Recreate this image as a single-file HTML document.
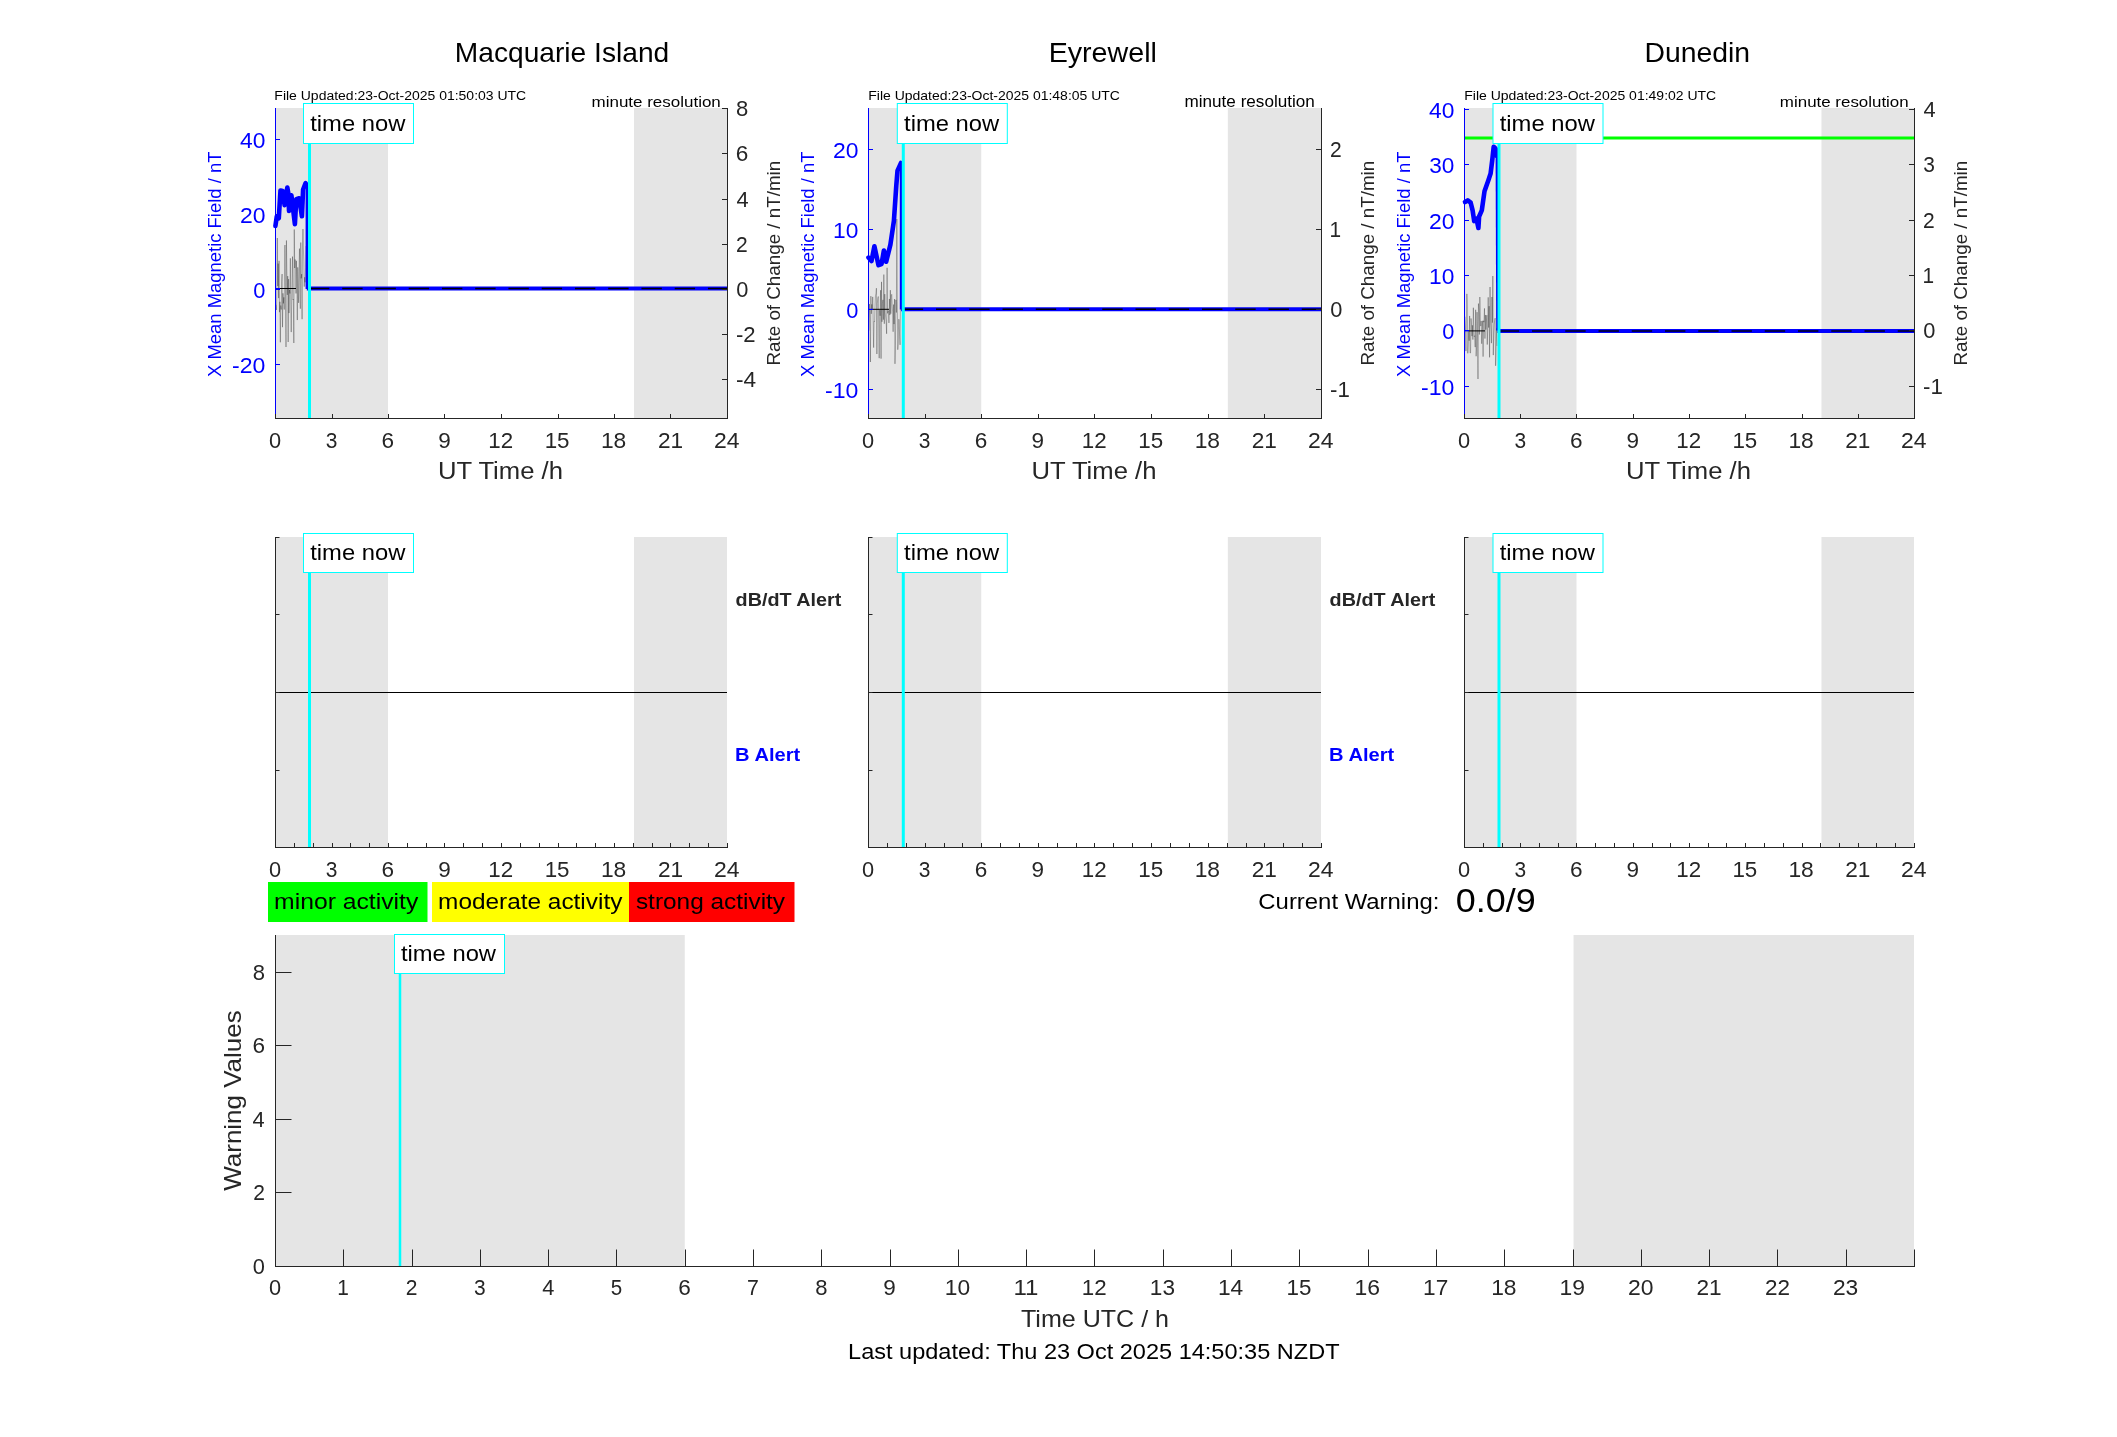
<!DOCTYPE html><html><head><meta charset="utf-8"><style>html,body{margin:0;padding:0;background:#fff;overflow:hidden}svg{display:block;will-change:transform}text{font-family:"Liberation Sans",sans-serif}</style></head><body>
<svg width="2117" height="1437" viewBox="0 0 2117 1437">
<rect x="0" y="0" width="2117" height="1437" fill="#ffffff"/>
<rect x="275" y="108" width="113.0" height="310" fill="#e5e5e5"/>
<rect x="634.0333333333333" y="108" width="92.96666666666674" height="310" fill="#e5e5e5"/>
<polyline points="276.00,305.12 276.43,309.96 276.87,293.89 277.30,238.00 277.74,286.11 278.17,263.58 278.61,298.15 279.04,260.84 279.48,312.19 279.91,301.78 280.35,342.29 280.78,305.54 281.22,309.50 281.65,281.92 282.09,274.04 282.52,327.20 282.96,293.30 283.39,303.42 283.83,297.34 284.26,309.53 284.70,245.73 285.13,245.01 285.57,303.62 286.00,347.00 286.43,240.46 286.87,271.39 287.30,294.88 287.74,276.08 288.17,342.00 288.61,279.07 289.04,313.07 289.48,289.85 289.91,293.56 290.35,258.32 290.78,305.24 291.22,332.08 291.65,304.13 292.09,279.89 292.52,256.59 292.96,299.94 293.39,299.21 293.83,343.00 294.26,229.47 294.70,268.01 295.13,259.47 295.57,264.85 296.00,293.46 296.43,260.80 296.87,281.05 297.30,320.07 297.74,267.34 298.17,285.12 298.61,302.88 299.04,270.92 299.48,248.58 299.91,293.19 300.35,308.70 300.78,242.53 301.22,278.38 301.65,274.08 302.09,319.20 302.52,245.95 302.96,229.00 303.39,249.04 303.83,261.11 304.26,286.61 304.70,277.24 305.13,282.28 305.57,267.60 306.00,246.36" fill="none" stroke="#000000" stroke-width="0.6" stroke-linejoin="round" stroke-linecap="round" stroke-opacity="0.45"/>
<line x1="276" y1="288.5" x2="280" y2="288.5" stroke="#0000ff" stroke-width="1"/>
<line x1="280" y1="288.5" x2="296" y2="288.5" stroke="#000000" stroke-width="1"/>
<polyline points="275.40,226.00 276.80,216.30 278.80,218.20 280.50,190.50 282.70,191.00 284.60,205.10 287.30,187.50 288.50,194.40 289.00,210.90 291.40,195.30 294.90,224.10 296.30,199.20 299.20,198.30 301.90,216.30 303.10,189.50 305.60,183.20 306.80,185.60" fill="none" stroke="#0000ff" stroke-width="4.6" stroke-linejoin="round" stroke-linecap="round"/>
<line x1="306.8" y1="185.6" x2="306.8" y2="289" stroke="#0000ff" stroke-width="2.4"/>
<line x1="306.8" y1="288.5" x2="727" y2="288.5" stroke="#0000ff" stroke-width="4"/>
<line x1="308.8" y1="288.5" x2="727" y2="288.5" stroke="#000000" stroke-width="1.5" stroke-dasharray="20.4,12.85" stroke-dashoffset="33.10"/>
<line x1="309.5" y1="143" x2="309.5" y2="418" stroke="#00ffff" stroke-width="3"/>
<line x1="275.5" y1="108" x2="275.5" y2="418.5" stroke="#0000ff" stroke-width="1"/>
<line x1="727.5" y1="108" x2="727.5" y2="418.5" stroke="#262626" stroke-width="1"/>
<line x1="275" y1="418.5" x2="728" y2="418.5" stroke="#262626" stroke-width="1"/>
<line x1="275.5" y1="418" x2="275.5" y2="414" stroke="#262626" stroke-width="1"/>
<text x="268.93" y="448.00" font-size="21.93" fill="#262626" textLength="12.14" lengthAdjust="spacingAndGlyphs">0</text>
<line x1="332.5" y1="418" x2="332.5" y2="414" stroke="#262626" stroke-width="1"/>
<text x="325.73" y="448.00" font-size="21.93" fill="#262626" textLength="11.65" lengthAdjust="spacingAndGlyphs">3</text>
<line x1="388.5" y1="418" x2="388.5" y2="414" stroke="#262626" stroke-width="1"/>
<text x="381.64" y="448.00" font-size="21.93" fill="#262626" textLength="12.56" lengthAdjust="spacingAndGlyphs">6</text>
<line x1="444.5" y1="418" x2="444.5" y2="414" stroke="#262626" stroke-width="1"/>
<text x="438.24" y="448.00" font-size="21.93" fill="#262626" textLength="12.53" lengthAdjust="spacingAndGlyphs">9</text>
<line x1="501.5" y1="418" x2="501.5" y2="414" stroke="#262626" stroke-width="1"/>
<text x="488.30" y="448.00" font-size="21.93" fill="#262626" textLength="24.82" lengthAdjust="spacingAndGlyphs">12</text>
<line x1="558.5" y1="418" x2="558.5" y2="414" stroke="#262626" stroke-width="1"/>
<text x="544.67" y="448.00" font-size="21.93" fill="#262626" textLength="24.90" lengthAdjust="spacingAndGlyphs">15</text>
<line x1="614.5" y1="418" x2="614.5" y2="414" stroke="#262626" stroke-width="1"/>
<text x="600.94" y="448.00" font-size="21.93" fill="#262626" textLength="25.38" lengthAdjust="spacingAndGlyphs">18</text>
<line x1="670.5" y1="418" x2="670.5" y2="414" stroke="#262626" stroke-width="1"/>
<text x="657.91" y="448.00" font-size="21.93" fill="#262626" textLength="25.16" lengthAdjust="spacingAndGlyphs">21</text>
<line x1="727.5" y1="418" x2="727.5" y2="414" stroke="#262626" stroke-width="1"/>
<text x="714.02" y="448.00" font-size="21.93" fill="#262626" textLength="25.49" lengthAdjust="spacingAndGlyphs">24</text>
<line x1="275" y1="364.5" x2="280" y2="364.5" stroke="#0000ff" stroke-width="1"/>
<text x="232.05" y="372.80" font-size="21.93" fill="#0000ff" textLength="33.35" lengthAdjust="spacingAndGlyphs">-20</text>
<line x1="275" y1="289.5" x2="280" y2="289.5" stroke="#0000ff" stroke-width="1"/>
<text x="253.22" y="297.80" font-size="21.93" fill="#0000ff" textLength="12.14" lengthAdjust="spacingAndGlyphs">0</text>
<line x1="275" y1="214.5" x2="280" y2="214.5" stroke="#0000ff" stroke-width="1"/>
<text x="239.90" y="222.80" font-size="21.93" fill="#0000ff" textLength="25.50" lengthAdjust="spacingAndGlyphs">20</text>
<line x1="275" y1="139.5" x2="280" y2="139.5" stroke="#0000ff" stroke-width="1"/>
<text x="240.02" y="147.80" font-size="21.93" fill="#0000ff" textLength="25.37" lengthAdjust="spacingAndGlyphs">40</text>
<line x1="727" y1="379.5" x2="722" y2="379.5" stroke="#262626" stroke-width="1"/>
<text x="735.99" y="387.00" font-size="21.93" fill="#262626" textLength="20.14" lengthAdjust="spacingAndGlyphs">-4</text>
<line x1="727" y1="334.5" x2="722" y2="334.5" stroke="#262626" stroke-width="1"/>
<text x="736.02" y="342.00" font-size="21.93" fill="#262626" textLength="19.65" lengthAdjust="spacingAndGlyphs">-2</text>
<line x1="727" y1="289.5" x2="722" y2="289.5" stroke="#262626" stroke-width="1"/>
<text x="736.15" y="297.00" font-size="21.93" fill="#262626" textLength="12.14" lengthAdjust="spacingAndGlyphs">0</text>
<line x1="727" y1="244.5" x2="722" y2="244.5" stroke="#262626" stroke-width="1"/>
<text x="735.94" y="252.00" font-size="21.93" fill="#262626" textLength="11.70" lengthAdjust="spacingAndGlyphs">2</text>
<line x1="727" y1="199.5" x2="722" y2="199.5" stroke="#262626" stroke-width="1"/>
<text x="736.50" y="207.00" font-size="21.93" fill="#262626" textLength="12.14" lengthAdjust="spacingAndGlyphs">4</text>
<line x1="727" y1="153.5" x2="722" y2="153.5" stroke="#262626" stroke-width="1"/>
<text x="735.85" y="161.00" font-size="21.93" fill="#262626" textLength="12.56" lengthAdjust="spacingAndGlyphs">6</text>
<line x1="727" y1="108.5" x2="722" y2="108.5" stroke="#262626" stroke-width="1"/>
<text x="736.04" y="116.00" font-size="21.93" fill="#262626" textLength="12.27" lengthAdjust="spacingAndGlyphs">8</text>
<text x="454.89" y="62.00" font-size="26.79" fill="#000000" textLength="214.32" lengthAdjust="spacingAndGlyphs">Macquarie Island</text>
<text x="274.35" y="100.00" font-size="13.29" fill="#000000" textLength="251.88" lengthAdjust="spacingAndGlyphs">File Updated:23-Oct-2025 01:50:03 UTC</text>
<text x="591.57" y="107.00" font-size="15.55" fill="#000000" textLength="129.23" lengthAdjust="spacingAndGlyphs">minute resolution</text>
<text x="438.05" y="479.00" font-size="24.46" fill="#262626" textLength="124.89" lengthAdjust="spacingAndGlyphs">UT Time /h</text>
<text transform="translate(221.00,376.50) rotate(-90)" x="-0.41" y="0" font-size="17.60" fill="#0000ff" textLength="225.34" lengthAdjust="spacingAndGlyphs">X Mean Magnetic Field / nT</text>
<text transform="translate(780.00,364.00) rotate(-90)" x="-1.54" y="0" font-size="17.84" fill="#262626" textLength="204.76" lengthAdjust="spacingAndGlyphs">Rate of Change / nT/min</text>
<rect x="303.50" y="103.5" width="110" height="40" fill="#ffffff" stroke="#00ffff" stroke-width="1"/>
<text x="310.24" y="130.60" font-size="21.97" fill="#000000" textLength="95.10" lengthAdjust="spacingAndGlyphs">time now</text>
<rect x="868" y="108" width="113.25" height="310" fill="#e5e5e5"/>
<rect x="1227.825" y="108" width="93.175" height="310" fill="#e5e5e5"/>
<polyline points="869.00,330.15 869.46,304.04 869.93,318.57 870.39,362.00 870.86,296.11 871.32,313.80 871.78,304.38 872.25,309.94 872.71,296.90 873.17,320.71 873.64,347.62 874.10,321.16 874.57,321.73 875.03,306.03 875.49,295.47 875.96,293.88 876.42,288.20 876.88,354.00 877.35,303.46 877.81,298.32 878.28,296.52 878.74,330.07 879.20,358.18 879.67,310.13 880.13,315.76 880.59,290.19 881.06,358.66 881.52,281.85 881.99,321.78 882.45,303.22 882.91,299.83 883.38,319.65 883.84,274.56 884.30,323.78 884.77,294.13 885.23,312.58 885.70,317.61 886.16,321.45 886.62,333.77 887.09,267.79 887.55,313.35 888.01,310.86 888.48,310.79 888.94,322.95 889.41,298.93 889.87,315.05 890.33,290.16 890.80,313.74 891.26,295.70 891.72,294.32 892.19,305.94 892.65,311.92 893.12,331.75 893.58,304.55 894.04,324.11 894.51,299.11 894.97,363.85 895.43,345.16 895.90,299.84 896.36,312.53 896.83,219.00 897.29,301.53 897.75,349.71 898.22,343.41 898.68,319.15 899.14,319.71 899.61,336.25 900.07,344.89 900.54,291.99 901.00,296.24" fill="none" stroke="#000000" stroke-width="0.6" stroke-linejoin="round" stroke-linecap="round" stroke-opacity="0.45"/>
<line x1="869" y1="309.3" x2="873" y2="309.3" stroke="#0000ff" stroke-width="1"/>
<line x1="873" y1="309.3" x2="889" y2="309.3" stroke="#000000" stroke-width="1"/>
<polyline points="868.50,257.60 871.50,261.10 874.40,246.30 878.50,265.20 881.50,264.10 883.90,250.50 886.20,261.70 890.40,244.60 893.90,220.90 896.30,185.50 897.50,170.70 901.00,163.00" fill="none" stroke="#0000ff" stroke-width="4.6" stroke-linejoin="round" stroke-linecap="round"/>
<line x1="901" y1="163" x2="901" y2="309.5" stroke="#0000ff" stroke-width="2.4"/>
<line x1="901" y1="309.3" x2="1321" y2="309.3" stroke="#0000ff" stroke-width="4"/>
<line x1="903" y1="309.3" x2="1321" y2="309.3" stroke="#000000" stroke-width="1.5" stroke-dasharray="20.4,12.85" stroke-dashoffset="0.25"/>
<line x1="903.3" y1="143" x2="903.3" y2="418" stroke="#00ffff" stroke-width="3"/>
<line x1="868.5" y1="108" x2="868.5" y2="418.5" stroke="#0000ff" stroke-width="1"/>
<line x1="1321.5" y1="108" x2="1321.5" y2="418.5" stroke="#262626" stroke-width="1"/>
<line x1="868" y1="418.5" x2="1322" y2="418.5" stroke="#262626" stroke-width="1"/>
<line x1="868.5" y1="418" x2="868.5" y2="414" stroke="#262626" stroke-width="1"/>
<text x="861.93" y="448.00" font-size="21.93" fill="#262626" textLength="12.14" lengthAdjust="spacingAndGlyphs">0</text>
<line x1="925.5" y1="418" x2="925.5" y2="414" stroke="#262626" stroke-width="1"/>
<text x="918.86" y="448.00" font-size="21.93" fill="#262626" textLength="11.65" lengthAdjust="spacingAndGlyphs">3</text>
<line x1="981.5" y1="418" x2="981.5" y2="414" stroke="#262626" stroke-width="1"/>
<text x="974.89" y="448.00" font-size="21.93" fill="#262626" textLength="12.56" lengthAdjust="spacingAndGlyphs">6</text>
<line x1="1038.5" y1="418" x2="1038.5" y2="414" stroke="#262626" stroke-width="1"/>
<text x="1031.61" y="448.00" font-size="21.93" fill="#262626" textLength="12.53" lengthAdjust="spacingAndGlyphs">9</text>
<line x1="1094.5" y1="418" x2="1094.5" y2="414" stroke="#262626" stroke-width="1"/>
<text x="1081.80" y="448.00" font-size="21.93" fill="#262626" textLength="24.82" lengthAdjust="spacingAndGlyphs">12</text>
<line x1="1151.5" y1="418" x2="1151.5" y2="414" stroke="#262626" stroke-width="1"/>
<text x="1138.29" y="448.00" font-size="21.93" fill="#262626" textLength="24.90" lengthAdjust="spacingAndGlyphs">15</text>
<line x1="1208.5" y1="418" x2="1208.5" y2="414" stroke="#262626" stroke-width="1"/>
<text x="1194.69" y="448.00" font-size="21.93" fill="#262626" textLength="25.38" lengthAdjust="spacingAndGlyphs">18</text>
<line x1="1264.5" y1="418" x2="1264.5" y2="414" stroke="#262626" stroke-width="1"/>
<text x="1251.78" y="448.00" font-size="21.93" fill="#262626" textLength="25.16" lengthAdjust="spacingAndGlyphs">21</text>
<line x1="1321.5" y1="418" x2="1321.5" y2="414" stroke="#262626" stroke-width="1"/>
<text x="1308.02" y="448.00" font-size="21.93" fill="#262626" textLength="25.49" lengthAdjust="spacingAndGlyphs">24</text>
<line x1="868" y1="389.5" x2="873" y2="389.5" stroke="#0000ff" stroke-width="1"/>
<text x="825.05" y="397.80" font-size="21.93" fill="#0000ff" textLength="33.35" lengthAdjust="spacingAndGlyphs">-10</text>
<line x1="868" y1="309.5" x2="873" y2="309.5" stroke="#0000ff" stroke-width="1"/>
<text x="846.22" y="317.80" font-size="21.93" fill="#0000ff" textLength="12.14" lengthAdjust="spacingAndGlyphs">0</text>
<line x1="868" y1="229.5" x2="873" y2="229.5" stroke="#0000ff" stroke-width="1"/>
<text x="833.08" y="237.80" font-size="21.93" fill="#0000ff" textLength="25.31" lengthAdjust="spacingAndGlyphs">10</text>
<line x1="868" y1="149.5" x2="873" y2="149.5" stroke="#0000ff" stroke-width="1"/>
<text x="832.90" y="157.80" font-size="21.93" fill="#0000ff" textLength="25.50" lengthAdjust="spacingAndGlyphs">20</text>
<line x1="1321" y1="389.5" x2="1316" y2="389.5" stroke="#262626" stroke-width="1"/>
<text x="1330.01" y="397.00" font-size="21.93" fill="#262626" textLength="19.79" lengthAdjust="spacingAndGlyphs">-1</text>
<line x1="1321" y1="309.5" x2="1316" y2="309.5" stroke="#262626" stroke-width="1"/>
<text x="1330.15" y="317.00" font-size="21.93" fill="#262626" textLength="12.14" lengthAdjust="spacingAndGlyphs">0</text>
<line x1="1321" y1="229.5" x2="1316" y2="229.5" stroke="#262626" stroke-width="1"/>
<text x="1329.41" y="237.00" font-size="21.93" fill="#262626" textLength="11.59" lengthAdjust="spacingAndGlyphs">1</text>
<line x1="1321" y1="149.5" x2="1316" y2="149.5" stroke="#262626" stroke-width="1"/>
<text x="1329.94" y="157.00" font-size="21.93" fill="#262626" textLength="11.70" lengthAdjust="spacingAndGlyphs">2</text>
<text x="1048.65" y="62.00" font-size="27.23" fill="#000000" textLength="108.27" lengthAdjust="spacingAndGlyphs">Eyrewell</text>
<text x="868.25" y="100.00" font-size="13.28" fill="#000000" textLength="251.68" lengthAdjust="spacingAndGlyphs">File Updated:23-Oct-2025 01:48:05 UTC</text>
<text x="1184.56" y="107.00" font-size="15.67" fill="#000000" textLength="130.25" lengthAdjust="spacingAndGlyphs">minute resolution</text>
<text x="1031.55" y="479.00" font-size="24.46" fill="#262626" textLength="124.89" lengthAdjust="spacingAndGlyphs">UT Time /h</text>
<text transform="translate(814.00,376.50) rotate(-90)" x="-0.41" y="0" font-size="17.60" fill="#0000ff" textLength="225.34" lengthAdjust="spacingAndGlyphs">X Mean Magnetic Field / nT</text>
<text transform="translate(1374.00,364.00) rotate(-90)" x="-1.54" y="0" font-size="17.84" fill="#262626" textLength="204.76" lengthAdjust="spacingAndGlyphs">Rate of Change / nT/min</text>
<rect x="897.30" y="103.5" width="110" height="40" fill="#ffffff" stroke="#00ffff" stroke-width="1"/>
<text x="904.04" y="130.60" font-size="21.97" fill="#000000" textLength="95.10" lengthAdjust="spacingAndGlyphs">time now</text>
<rect x="1464" y="108" width="112.5" height="310" fill="#e5e5e5"/>
<rect x="1821.45" y="108" width="92.55" height="310" fill="#e5e5e5"/>
<polyline points="1465.00,317.06 1465.46,326.97 1465.93,351.10 1466.39,320.96 1466.86,293.86 1467.32,306.44 1467.78,353.34 1468.25,344.36 1468.71,330.17 1469.17,340.75 1469.64,315.95 1470.10,353.14 1470.57,352.82 1471.03,318.41 1471.49,324.37 1471.96,336.14 1472.42,325.30 1472.88,339.60 1473.35,307.73 1473.81,327.71 1474.28,336.70 1474.74,335.73 1475.20,347.11 1475.67,309.76 1476.13,356.26 1476.59,347.18 1477.06,312.11 1477.52,333.27 1477.99,379.00 1478.45,303.57 1478.91,312.59 1479.38,334.52 1479.84,297.00 1480.30,319.16 1480.77,326.11 1481.23,320.96 1481.70,343.72 1482.16,330.98 1482.62,320.80 1483.09,356.63 1483.55,320.75 1484.01,322.17 1484.48,308.38 1484.94,338.58 1485.41,314.96 1485.87,329.61 1486.33,322.89 1486.80,315.17 1487.26,344.58 1487.72,327.40 1488.19,297.33 1488.65,327.59 1489.12,306.18 1489.58,357.35 1490.04,287.00 1490.51,321.07 1490.97,329.20 1491.43,343.17 1491.90,297.02 1492.36,322.65 1492.83,276.00 1493.29,355.12 1493.75,334.17 1494.22,324.78 1494.68,320.29 1495.14,318.17 1495.61,365.82 1496.07,355.19 1496.54,328.27 1497.00,345.58" fill="none" stroke="#000000" stroke-width="0.6" stroke-linejoin="round" stroke-linecap="round" stroke-opacity="0.45"/>
<line x1="1465" y1="330.9" x2="1469" y2="330.9" stroke="#0000ff" stroke-width="1"/>
<line x1="1469" y1="330.9" x2="1485" y2="330.9" stroke="#000000" stroke-width="1"/>
<line x1="1464" y1="138" x2="1914" y2="138" stroke="#00ff00" stroke-width="3"/>
<polyline points="1465.00,202.00 1467.70,200.40 1470.70,202.70 1472.60,210.40 1474.20,221.10 1476.50,218.80 1478.40,228.00 1479.10,216.50 1481.80,210.40 1484.50,191.30 1488.30,180.50 1490.60,173.60 1492.20,160.60 1493.70,146.80 1495.60,148.40 1496.80,156.00" fill="none" stroke="#0000ff" stroke-width="4.6" stroke-linejoin="round" stroke-linecap="round"/>
<line x1="1496.8" y1="156" x2="1497.4" y2="330.5" stroke="#0000ff" stroke-width="2.4"/>
<line x1="1497.4" y1="330.9" x2="1914" y2="330.9" stroke="#0000ff" stroke-width="4"/>
<line x1="1499.4" y1="330.9" x2="1914" y2="330.9" stroke="#000050" stroke-width="2.0" stroke-dasharray="20.4,12.85" stroke-dashoffset="0.65"/>
<line x1="1499" y1="143" x2="1499" y2="418" stroke="#00ffff" stroke-width="3"/>
<line x1="1464.5" y1="108" x2="1464.5" y2="418.5" stroke="#0000ff" stroke-width="1"/>
<line x1="1914.5" y1="108" x2="1914.5" y2="418.5" stroke="#262626" stroke-width="1"/>
<line x1="1464" y1="418.5" x2="1915" y2="418.5" stroke="#262626" stroke-width="1"/>
<line x1="1464.5" y1="418" x2="1464.5" y2="414" stroke="#262626" stroke-width="1"/>
<text x="1457.93" y="448.00" font-size="21.93" fill="#262626" textLength="12.14" lengthAdjust="spacingAndGlyphs">0</text>
<line x1="1520.5" y1="418" x2="1520.5" y2="414" stroke="#262626" stroke-width="1"/>
<text x="1514.48" y="448.00" font-size="21.93" fill="#262626" textLength="11.65" lengthAdjust="spacingAndGlyphs">3</text>
<line x1="1576.5" y1="418" x2="1576.5" y2="414" stroke="#262626" stroke-width="1"/>
<text x="1570.14" y="448.00" font-size="21.93" fill="#262626" textLength="12.56" lengthAdjust="spacingAndGlyphs">6</text>
<line x1="1633.5" y1="418" x2="1633.5" y2="414" stroke="#262626" stroke-width="1"/>
<text x="1626.49" y="448.00" font-size="21.93" fill="#262626" textLength="12.53" lengthAdjust="spacingAndGlyphs">9</text>
<line x1="1689.5" y1="418" x2="1689.5" y2="414" stroke="#262626" stroke-width="1"/>
<text x="1676.30" y="448.00" font-size="21.93" fill="#262626" textLength="24.82" lengthAdjust="spacingAndGlyphs">12</text>
<line x1="1745.5" y1="418" x2="1745.5" y2="414" stroke="#262626" stroke-width="1"/>
<text x="1732.42" y="448.00" font-size="21.93" fill="#262626" textLength="24.90" lengthAdjust="spacingAndGlyphs">15</text>
<line x1="1802.5" y1="418" x2="1802.5" y2="414" stroke="#262626" stroke-width="1"/>
<text x="1788.44" y="448.00" font-size="21.93" fill="#262626" textLength="25.38" lengthAdjust="spacingAndGlyphs">18</text>
<line x1="1858.5" y1="418" x2="1858.5" y2="414" stroke="#262626" stroke-width="1"/>
<text x="1845.16" y="448.00" font-size="21.93" fill="#262626" textLength="25.16" lengthAdjust="spacingAndGlyphs">21</text>
<line x1="1914.5" y1="418" x2="1914.5" y2="414" stroke="#262626" stroke-width="1"/>
<text x="1901.02" y="448.00" font-size="21.93" fill="#262626" textLength="25.49" lengthAdjust="spacingAndGlyphs">24</text>
<line x1="1464" y1="386.5" x2="1469" y2="386.5" stroke="#0000ff" stroke-width="1"/>
<text x="1421.05" y="394.80" font-size="21.93" fill="#0000ff" textLength="33.35" lengthAdjust="spacingAndGlyphs">-10</text>
<line x1="1464" y1="330.5" x2="1469" y2="330.5" stroke="#0000ff" stroke-width="1"/>
<text x="1442.22" y="338.80" font-size="21.93" fill="#0000ff" textLength="12.14" lengthAdjust="spacingAndGlyphs">0</text>
<line x1="1464" y1="275.5" x2="1469" y2="275.5" stroke="#0000ff" stroke-width="1"/>
<text x="1429.08" y="283.80" font-size="21.93" fill="#0000ff" textLength="25.31" lengthAdjust="spacingAndGlyphs">10</text>
<line x1="1464" y1="220.5" x2="1469" y2="220.5" stroke="#0000ff" stroke-width="1"/>
<text x="1428.90" y="228.80" font-size="21.93" fill="#0000ff" textLength="25.50" lengthAdjust="spacingAndGlyphs">20</text>
<line x1="1464" y1="164.5" x2="1469" y2="164.5" stroke="#0000ff" stroke-width="1"/>
<text x="1429.25" y="172.80" font-size="21.93" fill="#0000ff" textLength="25.13" lengthAdjust="spacingAndGlyphs">30</text>
<line x1="1464" y1="109.5" x2="1469" y2="109.5" stroke="#0000ff" stroke-width="1"/>
<text x="1429.02" y="117.80" font-size="21.93" fill="#0000ff" textLength="25.37" lengthAdjust="spacingAndGlyphs">40</text>
<line x1="1914" y1="386.5" x2="1909" y2="386.5" stroke="#262626" stroke-width="1"/>
<text x="1923.01" y="394.00" font-size="21.93" fill="#262626" textLength="19.79" lengthAdjust="spacingAndGlyphs">-1</text>
<line x1="1914" y1="330.5" x2="1909" y2="330.5" stroke="#262626" stroke-width="1"/>
<text x="1923.15" y="338.00" font-size="21.93" fill="#262626" textLength="12.14" lengthAdjust="spacingAndGlyphs">0</text>
<line x1="1914" y1="275.5" x2="1909" y2="275.5" stroke="#262626" stroke-width="1"/>
<text x="1922.41" y="283.00" font-size="21.93" fill="#262626" textLength="11.59" lengthAdjust="spacingAndGlyphs">1</text>
<line x1="1914" y1="220.5" x2="1909" y2="220.5" stroke="#262626" stroke-width="1"/>
<text x="1922.94" y="228.00" font-size="21.93" fill="#262626" textLength="11.70" lengthAdjust="spacingAndGlyphs">2</text>
<line x1="1914" y1="164.5" x2="1909" y2="164.5" stroke="#262626" stroke-width="1"/>
<text x="1923.20" y="172.00" font-size="21.93" fill="#262626" textLength="11.65" lengthAdjust="spacingAndGlyphs">3</text>
<line x1="1914" y1="109.5" x2="1909" y2="109.5" stroke="#262626" stroke-width="1"/>
<text x="1923.50" y="117.00" font-size="21.93" fill="#262626" textLength="12.14" lengthAdjust="spacingAndGlyphs">4</text>
<text x="1644.47" y="62.00" font-size="26.78" fill="#000000" textLength="105.67" lengthAdjust="spacingAndGlyphs">Dunedin</text>
<text x="1464.25" y="100.00" font-size="13.30" fill="#000000" textLength="251.98" lengthAdjust="spacingAndGlyphs">File Updated:23-Oct-2025 01:49:02 UTC</text>
<text x="1779.88" y="107.00" font-size="15.50" fill="#000000" textLength="128.82" lengthAdjust="spacingAndGlyphs">minute resolution</text>
<text x="1626.05" y="479.00" font-size="24.46" fill="#262626" textLength="124.89" lengthAdjust="spacingAndGlyphs">UT Time /h</text>
<text transform="translate(1410.00,376.50) rotate(-90)" x="-0.41" y="0" font-size="17.60" fill="#0000ff" textLength="225.34" lengthAdjust="spacingAndGlyphs">X Mean Magnetic Field / nT</text>
<text transform="translate(1967.00,364.00) rotate(-90)" x="-1.54" y="0" font-size="17.84" fill="#262626" textLength="204.76" lengthAdjust="spacingAndGlyphs">Rate of Change / nT/min</text>
<rect x="1493.00" y="103.5" width="110" height="40" fill="#ffffff" stroke="#00ffff" stroke-width="1"/>
<text x="1499.74" y="130.60" font-size="21.97" fill="#000000" textLength="95.10" lengthAdjust="spacingAndGlyphs">time now</text>
<rect x="275" y="537" width="113.0" height="310" fill="#e5e5e5"/>
<rect x="634.0333333333333" y="537" width="92.96666666666674" height="310" fill="#e5e5e5"/>
<line x1="275" y1="692.5" x2="727" y2="692.5" stroke="#000000" stroke-width="1"/>
<line x1="309.5" y1="572" x2="309.5" y2="847" stroke="#00ffff" stroke-width="3"/>
<line x1="275.5" y1="537" x2="275.5" y2="847.5" stroke="#262626" stroke-width="1"/>
<line x1="275" y1="847.5" x2="728" y2="847.5" stroke="#262626" stroke-width="1"/>
<line x1="275" y1="537.5" x2="279.5" y2="537.5" stroke="#262626" stroke-width="1"/>
<line x1="275" y1="614.5" x2="279.5" y2="614.5" stroke="#262626" stroke-width="1"/>
<line x1="275" y1="692.5" x2="279.5" y2="692.5" stroke="#262626" stroke-width="1"/>
<line x1="275" y1="770.5" x2="279.5" y2="770.5" stroke="#262626" stroke-width="1"/>
<line x1="275.5" y1="847" x2="275.5" y2="843" stroke="#262626" stroke-width="1"/>
<text x="268.93" y="876.50" font-size="21.93" fill="#262626" textLength="12.14" lengthAdjust="spacingAndGlyphs">0</text>
<line x1="294.5" y1="847" x2="294.5" y2="843" stroke="#262626" stroke-width="1"/>
<line x1="313.5" y1="847" x2="313.5" y2="843" stroke="#262626" stroke-width="1"/>
<line x1="332.5" y1="847" x2="332.5" y2="843" stroke="#262626" stroke-width="1"/>
<text x="325.73" y="876.50" font-size="21.93" fill="#262626" textLength="11.65" lengthAdjust="spacingAndGlyphs">3</text>
<line x1="350.5" y1="847" x2="350.5" y2="843" stroke="#262626" stroke-width="1"/>
<line x1="369.5" y1="847" x2="369.5" y2="843" stroke="#262626" stroke-width="1"/>
<line x1="388.5" y1="847" x2="388.5" y2="843" stroke="#262626" stroke-width="1"/>
<text x="381.64" y="876.50" font-size="21.93" fill="#262626" textLength="12.56" lengthAdjust="spacingAndGlyphs">6</text>
<line x1="407.5" y1="847" x2="407.5" y2="843" stroke="#262626" stroke-width="1"/>
<line x1="426.5" y1="847" x2="426.5" y2="843" stroke="#262626" stroke-width="1"/>
<line x1="444.5" y1="847" x2="444.5" y2="843" stroke="#262626" stroke-width="1"/>
<text x="438.24" y="876.50" font-size="21.93" fill="#262626" textLength="12.53" lengthAdjust="spacingAndGlyphs">9</text>
<line x1="463.5" y1="847" x2="463.5" y2="843" stroke="#262626" stroke-width="1"/>
<line x1="482.5" y1="847" x2="482.5" y2="843" stroke="#262626" stroke-width="1"/>
<line x1="501.5" y1="847" x2="501.5" y2="843" stroke="#262626" stroke-width="1"/>
<text x="488.30" y="876.50" font-size="21.93" fill="#262626" textLength="24.82" lengthAdjust="spacingAndGlyphs">12</text>
<line x1="520.5" y1="847" x2="520.5" y2="843" stroke="#262626" stroke-width="1"/>
<line x1="539.5" y1="847" x2="539.5" y2="843" stroke="#262626" stroke-width="1"/>
<line x1="558.5" y1="847" x2="558.5" y2="843" stroke="#262626" stroke-width="1"/>
<text x="544.67" y="876.50" font-size="21.93" fill="#262626" textLength="24.90" lengthAdjust="spacingAndGlyphs">15</text>
<line x1="576.5" y1="847" x2="576.5" y2="843" stroke="#262626" stroke-width="1"/>
<line x1="595.5" y1="847" x2="595.5" y2="843" stroke="#262626" stroke-width="1"/>
<line x1="614.5" y1="847" x2="614.5" y2="843" stroke="#262626" stroke-width="1"/>
<text x="600.94" y="876.50" font-size="21.93" fill="#262626" textLength="25.38" lengthAdjust="spacingAndGlyphs">18</text>
<line x1="633.5" y1="847" x2="633.5" y2="843" stroke="#262626" stroke-width="1"/>
<line x1="652.5" y1="847" x2="652.5" y2="843" stroke="#262626" stroke-width="1"/>
<line x1="670.5" y1="847" x2="670.5" y2="843" stroke="#262626" stroke-width="1"/>
<text x="657.91" y="876.50" font-size="21.93" fill="#262626" textLength="25.16" lengthAdjust="spacingAndGlyphs">21</text>
<line x1="689.5" y1="847" x2="689.5" y2="843" stroke="#262626" stroke-width="1"/>
<line x1="708.5" y1="847" x2="708.5" y2="843" stroke="#262626" stroke-width="1"/>
<line x1="727.5" y1="847" x2="727.5" y2="843" stroke="#262626" stroke-width="1"/>
<text x="714.02" y="876.50" font-size="21.93" fill="#262626" textLength="25.49" lengthAdjust="spacingAndGlyphs">24</text>
<text x="735.60" y="605.60" font-size="17.63" fill="#262626" font-weight="bold" textLength="105.64" lengthAdjust="spacingAndGlyphs">dB/dT Alert</text>
<text x="735.07" y="761.00" font-size="17.91" fill="#0000ff" font-weight="bold" textLength="65.17" lengthAdjust="spacingAndGlyphs">B Alert</text>
<rect x="303.50" y="533.5" width="110" height="39" fill="#ffffff" stroke="#00ffff" stroke-width="1"/>
<text x="310.24" y="560.00" font-size="21.97" fill="#000000" textLength="95.10" lengthAdjust="spacingAndGlyphs">time now</text>
<rect x="868" y="537" width="113.25" height="310" fill="#e5e5e5"/>
<rect x="1227.825" y="537" width="93.175" height="310" fill="#e5e5e5"/>
<line x1="868" y1="692.5" x2="1321" y2="692.5" stroke="#000000" stroke-width="1"/>
<line x1="903.3" y1="572" x2="903.3" y2="847" stroke="#00ffff" stroke-width="3"/>
<line x1="868.5" y1="537" x2="868.5" y2="847.5" stroke="#262626" stroke-width="1"/>
<line x1="868" y1="847.5" x2="1322" y2="847.5" stroke="#262626" stroke-width="1"/>
<line x1="868" y1="537.5" x2="872.5" y2="537.5" stroke="#262626" stroke-width="1"/>
<line x1="868" y1="614.5" x2="872.5" y2="614.5" stroke="#262626" stroke-width="1"/>
<line x1="868" y1="692.5" x2="872.5" y2="692.5" stroke="#262626" stroke-width="1"/>
<line x1="868" y1="770.5" x2="872.5" y2="770.5" stroke="#262626" stroke-width="1"/>
<line x1="868.5" y1="847" x2="868.5" y2="843" stroke="#262626" stroke-width="1"/>
<text x="861.93" y="876.50" font-size="21.93" fill="#262626" textLength="12.14" lengthAdjust="spacingAndGlyphs">0</text>
<line x1="887.5" y1="847" x2="887.5" y2="843" stroke="#262626" stroke-width="1"/>
<line x1="906.5" y1="847" x2="906.5" y2="843" stroke="#262626" stroke-width="1"/>
<line x1="925.5" y1="847" x2="925.5" y2="843" stroke="#262626" stroke-width="1"/>
<text x="918.86" y="876.50" font-size="21.93" fill="#262626" textLength="11.65" lengthAdjust="spacingAndGlyphs">3</text>
<line x1="944.5" y1="847" x2="944.5" y2="843" stroke="#262626" stroke-width="1"/>
<line x1="962.5" y1="847" x2="962.5" y2="843" stroke="#262626" stroke-width="1"/>
<line x1="981.5" y1="847" x2="981.5" y2="843" stroke="#262626" stroke-width="1"/>
<text x="974.89" y="876.50" font-size="21.93" fill="#262626" textLength="12.56" lengthAdjust="spacingAndGlyphs">6</text>
<line x1="1000.5" y1="847" x2="1000.5" y2="843" stroke="#262626" stroke-width="1"/>
<line x1="1019.5" y1="847" x2="1019.5" y2="843" stroke="#262626" stroke-width="1"/>
<line x1="1038.5" y1="847" x2="1038.5" y2="843" stroke="#262626" stroke-width="1"/>
<text x="1031.61" y="876.50" font-size="21.93" fill="#262626" textLength="12.53" lengthAdjust="spacingAndGlyphs">9</text>
<line x1="1057.5" y1="847" x2="1057.5" y2="843" stroke="#262626" stroke-width="1"/>
<line x1="1076.5" y1="847" x2="1076.5" y2="843" stroke="#262626" stroke-width="1"/>
<line x1="1094.5" y1="847" x2="1094.5" y2="843" stroke="#262626" stroke-width="1"/>
<text x="1081.80" y="876.50" font-size="21.93" fill="#262626" textLength="24.82" lengthAdjust="spacingAndGlyphs">12</text>
<line x1="1113.5" y1="847" x2="1113.5" y2="843" stroke="#262626" stroke-width="1"/>
<line x1="1132.5" y1="847" x2="1132.5" y2="843" stroke="#262626" stroke-width="1"/>
<line x1="1151.5" y1="847" x2="1151.5" y2="843" stroke="#262626" stroke-width="1"/>
<text x="1138.29" y="876.50" font-size="21.93" fill="#262626" textLength="24.90" lengthAdjust="spacingAndGlyphs">15</text>
<line x1="1170.5" y1="847" x2="1170.5" y2="843" stroke="#262626" stroke-width="1"/>
<line x1="1189.5" y1="847" x2="1189.5" y2="843" stroke="#262626" stroke-width="1"/>
<line x1="1208.5" y1="847" x2="1208.5" y2="843" stroke="#262626" stroke-width="1"/>
<text x="1194.69" y="876.50" font-size="21.93" fill="#262626" textLength="25.38" lengthAdjust="spacingAndGlyphs">18</text>
<line x1="1227.5" y1="847" x2="1227.5" y2="843" stroke="#262626" stroke-width="1"/>
<line x1="1246.5" y1="847" x2="1246.5" y2="843" stroke="#262626" stroke-width="1"/>
<line x1="1264.5" y1="847" x2="1264.5" y2="843" stroke="#262626" stroke-width="1"/>
<text x="1251.78" y="876.50" font-size="21.93" fill="#262626" textLength="25.16" lengthAdjust="spacingAndGlyphs">21</text>
<line x1="1283.5" y1="847" x2="1283.5" y2="843" stroke="#262626" stroke-width="1"/>
<line x1="1302.5" y1="847" x2="1302.5" y2="843" stroke="#262626" stroke-width="1"/>
<line x1="1321.5" y1="847" x2="1321.5" y2="843" stroke="#262626" stroke-width="1"/>
<text x="1308.02" y="876.50" font-size="21.93" fill="#262626" textLength="25.49" lengthAdjust="spacingAndGlyphs">24</text>
<text x="1329.60" y="605.60" font-size="17.63" fill="#262626" font-weight="bold" textLength="105.64" lengthAdjust="spacingAndGlyphs">dB/dT Alert</text>
<text x="1329.07" y="761.00" font-size="17.91" fill="#0000ff" font-weight="bold" textLength="65.17" lengthAdjust="spacingAndGlyphs">B Alert</text>
<rect x="897.30" y="533.5" width="110" height="39" fill="#ffffff" stroke="#00ffff" stroke-width="1"/>
<text x="904.04" y="560.00" font-size="21.97" fill="#000000" textLength="95.10" lengthAdjust="spacingAndGlyphs">time now</text>
<rect x="1464" y="537" width="112.5" height="310" fill="#e5e5e5"/>
<rect x="1821.45" y="537" width="92.55" height="310" fill="#e5e5e5"/>
<line x1="1464" y1="692.5" x2="1914" y2="692.5" stroke="#000000" stroke-width="1"/>
<line x1="1499" y1="572" x2="1499" y2="847" stroke="#00ffff" stroke-width="3"/>
<line x1="1464.5" y1="537" x2="1464.5" y2="847.5" stroke="#262626" stroke-width="1"/>
<line x1="1464" y1="847.5" x2="1915" y2="847.5" stroke="#262626" stroke-width="1"/>
<line x1="1464" y1="537.5" x2="1468.5" y2="537.5" stroke="#262626" stroke-width="1"/>
<line x1="1464" y1="614.5" x2="1468.5" y2="614.5" stroke="#262626" stroke-width="1"/>
<line x1="1464" y1="692.5" x2="1468.5" y2="692.5" stroke="#262626" stroke-width="1"/>
<line x1="1464" y1="770.5" x2="1468.5" y2="770.5" stroke="#262626" stroke-width="1"/>
<line x1="1464.5" y1="847" x2="1464.5" y2="843" stroke="#262626" stroke-width="1"/>
<text x="1457.93" y="876.50" font-size="21.93" fill="#262626" textLength="12.14" lengthAdjust="spacingAndGlyphs">0</text>
<line x1="1483.5" y1="847" x2="1483.5" y2="843" stroke="#262626" stroke-width="1"/>
<line x1="1502.5" y1="847" x2="1502.5" y2="843" stroke="#262626" stroke-width="1"/>
<line x1="1520.5" y1="847" x2="1520.5" y2="843" stroke="#262626" stroke-width="1"/>
<text x="1514.48" y="876.50" font-size="21.93" fill="#262626" textLength="11.65" lengthAdjust="spacingAndGlyphs">3</text>
<line x1="1539.5" y1="847" x2="1539.5" y2="843" stroke="#262626" stroke-width="1"/>
<line x1="1558.5" y1="847" x2="1558.5" y2="843" stroke="#262626" stroke-width="1"/>
<line x1="1576.5" y1="847" x2="1576.5" y2="843" stroke="#262626" stroke-width="1"/>
<text x="1570.14" y="876.50" font-size="21.93" fill="#262626" textLength="12.56" lengthAdjust="spacingAndGlyphs">6</text>
<line x1="1595.5" y1="847" x2="1595.5" y2="843" stroke="#262626" stroke-width="1"/>
<line x1="1614.5" y1="847" x2="1614.5" y2="843" stroke="#262626" stroke-width="1"/>
<line x1="1633.5" y1="847" x2="1633.5" y2="843" stroke="#262626" stroke-width="1"/>
<text x="1626.49" y="876.50" font-size="21.93" fill="#262626" textLength="12.53" lengthAdjust="spacingAndGlyphs">9</text>
<line x1="1652.5" y1="847" x2="1652.5" y2="843" stroke="#262626" stroke-width="1"/>
<line x1="1670.5" y1="847" x2="1670.5" y2="843" stroke="#262626" stroke-width="1"/>
<line x1="1689.5" y1="847" x2="1689.5" y2="843" stroke="#262626" stroke-width="1"/>
<text x="1676.30" y="876.50" font-size="21.93" fill="#262626" textLength="24.82" lengthAdjust="spacingAndGlyphs">12</text>
<line x1="1708.5" y1="847" x2="1708.5" y2="843" stroke="#262626" stroke-width="1"/>
<line x1="1726.5" y1="847" x2="1726.5" y2="843" stroke="#262626" stroke-width="1"/>
<line x1="1745.5" y1="847" x2="1745.5" y2="843" stroke="#262626" stroke-width="1"/>
<text x="1732.42" y="876.50" font-size="21.93" fill="#262626" textLength="24.90" lengthAdjust="spacingAndGlyphs">15</text>
<line x1="1764.5" y1="847" x2="1764.5" y2="843" stroke="#262626" stroke-width="1"/>
<line x1="1783.5" y1="847" x2="1783.5" y2="843" stroke="#262626" stroke-width="1"/>
<line x1="1802.5" y1="847" x2="1802.5" y2="843" stroke="#262626" stroke-width="1"/>
<text x="1788.44" y="876.50" font-size="21.93" fill="#262626" textLength="25.38" lengthAdjust="spacingAndGlyphs">18</text>
<line x1="1820.5" y1="847" x2="1820.5" y2="843" stroke="#262626" stroke-width="1"/>
<line x1="1839.5" y1="847" x2="1839.5" y2="843" stroke="#262626" stroke-width="1"/>
<line x1="1858.5" y1="847" x2="1858.5" y2="843" stroke="#262626" stroke-width="1"/>
<text x="1845.16" y="876.50" font-size="21.93" fill="#262626" textLength="25.16" lengthAdjust="spacingAndGlyphs">21</text>
<line x1="1876.5" y1="847" x2="1876.5" y2="843" stroke="#262626" stroke-width="1"/>
<line x1="1895.5" y1="847" x2="1895.5" y2="843" stroke="#262626" stroke-width="1"/>
<line x1="1914.5" y1="847" x2="1914.5" y2="843" stroke="#262626" stroke-width="1"/>
<text x="1901.02" y="876.50" font-size="21.93" fill="#262626" textLength="25.49" lengthAdjust="spacingAndGlyphs">24</text>
<rect x="1493.00" y="533.5" width="110" height="39" fill="#ffffff" stroke="#00ffff" stroke-width="1"/>
<text x="1499.74" y="560.00" font-size="21.97" fill="#000000" textLength="95.10" lengthAdjust="spacingAndGlyphs">time now</text>
<rect x="268" y="882" width="159.5" height="40" fill="#00ff00"/>
<rect x="432" y="882" width="197" height="40" fill="#ffff00"/>
<rect x="629" y="882" width="165.5" height="40" fill="#ff0000"/>
<text x="274.06" y="908.60" font-size="22.25" fill="#000000" textLength="144.29" lengthAdjust="spacingAndGlyphs">minor activity</text>
<text x="438.08" y="908.60" font-size="22.11" fill="#000000" textLength="184.27" lengthAdjust="spacingAndGlyphs">moderate activity</text>
<text x="635.92" y="908.60" font-size="22.07" fill="#000000" textLength="149.13" lengthAdjust="spacingAndGlyphs">strong activity</text>
<text x="1258.39" y="908.60" font-size="22.22" fill="#000000" textLength="180.98" lengthAdjust="spacingAndGlyphs">Current Warning:</text>
<text x="1455.80" y="912.20" font-size="33.53" fill="#000000" textLength="79.90" lengthAdjust="spacingAndGlyphs">0.0/9</text>
<rect x="275" y="935" width="409.75" height="331" fill="#e5e5e5"/>
<rect x="1573.5416666666667" y="935" width="340.45833333333326" height="331" fill="#e5e5e5"/>
<line x1="400" y1="973" x2="400" y2="1266" stroke="#00ffff" stroke-width="2.5"/>
<line x1="275.5" y1="935" x2="275.5" y2="1266.5" stroke="#262626" stroke-width="1"/>
<line x1="275" y1="1266.5" x2="1915" y2="1266.5" stroke="#262626" stroke-width="1"/>
<line x1="275" y1="1266.5" x2="291.5" y2="1266.5" stroke="#262626" stroke-width="1"/>
<text x="252.72" y="1273.80" font-size="21.93" fill="#262626" textLength="12.14" lengthAdjust="spacingAndGlyphs">0</text>
<line x1="275" y1="1192.5" x2="291.5" y2="1192.5" stroke="#262626" stroke-width="1"/>
<text x="253.36" y="1199.80" font-size="21.93" fill="#262626" textLength="11.70" lengthAdjust="spacingAndGlyphs">2</text>
<line x1="275" y1="1119.5" x2="291.5" y2="1119.5" stroke="#262626" stroke-width="1"/>
<text x="252.50" y="1126.80" font-size="21.93" fill="#262626" textLength="12.14" lengthAdjust="spacingAndGlyphs">4</text>
<line x1="275" y1="1045.5" x2="291.5" y2="1045.5" stroke="#262626" stroke-width="1"/>
<text x="252.43" y="1052.80" font-size="21.93" fill="#262626" textLength="12.56" lengthAdjust="spacingAndGlyphs">6</text>
<line x1="275" y1="972.5" x2="291.5" y2="972.5" stroke="#262626" stroke-width="1"/>
<text x="252.69" y="979.80" font-size="21.93" fill="#262626" textLength="12.27" lengthAdjust="spacingAndGlyphs">8</text>
<line x1="275.5" y1="1266" x2="275.5" y2="1249.5" stroke="#262626" stroke-width="1"/>
<text x="268.93" y="1295.00" font-size="21.93" fill="#262626" textLength="12.14" lengthAdjust="spacingAndGlyphs">0</text>
<line x1="343.5" y1="1266" x2="343.5" y2="1249.5" stroke="#262626" stroke-width="1"/>
<text x="337.21" y="1295.00" font-size="21.93" fill="#262626" textLength="11.59" lengthAdjust="spacingAndGlyphs">1</text>
<line x1="412.5" y1="1266" x2="412.5" y2="1249.5" stroke="#262626" stroke-width="1"/>
<text x="405.73" y="1295.00" font-size="21.93" fill="#262626" textLength="11.70" lengthAdjust="spacingAndGlyphs">2</text>
<line x1="480.5" y1="1266" x2="480.5" y2="1249.5" stroke="#262626" stroke-width="1"/>
<text x="474.11" y="1295.00" font-size="21.93" fill="#262626" textLength="11.65" lengthAdjust="spacingAndGlyphs">3</text>
<line x1="548.5" y1="1266" x2="548.5" y2="1249.5" stroke="#262626" stroke-width="1"/>
<text x="542.17" y="1295.00" font-size="21.93" fill="#262626" textLength="12.14" lengthAdjust="spacingAndGlyphs">4</text>
<line x1="616.5" y1="1266" x2="616.5" y2="1249.5" stroke="#262626" stroke-width="1"/>
<text x="610.75" y="1295.00" font-size="21.93" fill="#262626" textLength="11.45" lengthAdjust="spacingAndGlyphs">5</text>
<line x1="685.5" y1="1266" x2="685.5" y2="1249.5" stroke="#262626" stroke-width="1"/>
<text x="678.39" y="1295.00" font-size="21.93" fill="#262626" textLength="12.56" lengthAdjust="spacingAndGlyphs">6</text>
<line x1="753.5" y1="1266" x2="753.5" y2="1249.5" stroke="#262626" stroke-width="1"/>
<text x="747.10" y="1295.00" font-size="21.93" fill="#262626" textLength="11.87" lengthAdjust="spacingAndGlyphs">7</text>
<line x1="821.5" y1="1266" x2="821.5" y2="1249.5" stroke="#262626" stroke-width="1"/>
<text x="815.20" y="1295.00" font-size="21.93" fill="#262626" textLength="12.27" lengthAdjust="spacingAndGlyphs">8</text>
<line x1="890.5" y1="1266" x2="890.5" y2="1249.5" stroke="#262626" stroke-width="1"/>
<text x="883.36" y="1295.00" font-size="21.93" fill="#262626" textLength="12.53" lengthAdjust="spacingAndGlyphs">9</text>
<line x1="958.5" y1="1266" x2="958.5" y2="1249.5" stroke="#262626" stroke-width="1"/>
<text x="944.84" y="1295.00" font-size="21.93" fill="#262626" textLength="25.31" lengthAdjust="spacingAndGlyphs">10</text>
<line x1="1026.5" y1="1266" x2="1026.5" y2="1249.5" stroke="#262626" stroke-width="1"/>
<text x="1013.42" y="1295.00" font-size="21.93" fill="#262626" textLength="24.96" lengthAdjust="spacingAndGlyphs">11</text>
<line x1="1094.5" y1="1266" x2="1094.5" y2="1249.5" stroke="#262626" stroke-width="1"/>
<text x="1081.80" y="1295.00" font-size="21.93" fill="#262626" textLength="24.82" lengthAdjust="spacingAndGlyphs">12</text>
<line x1="1163.5" y1="1266" x2="1163.5" y2="1249.5" stroke="#262626" stroke-width="1"/>
<text x="1149.87" y="1295.00" font-size="21.93" fill="#262626" textLength="25.12" lengthAdjust="spacingAndGlyphs">13</text>
<line x1="1231.5" y1="1266" x2="1231.5" y2="1249.5" stroke="#262626" stroke-width="1"/>
<text x="1217.90" y="1295.00" font-size="21.93" fill="#262626" textLength="25.30" lengthAdjust="spacingAndGlyphs">14</text>
<line x1="1299.5" y1="1266" x2="1299.5" y2="1249.5" stroke="#262626" stroke-width="1"/>
<text x="1286.54" y="1295.00" font-size="21.93" fill="#262626" textLength="24.90" lengthAdjust="spacingAndGlyphs">15</text>
<line x1="1368.5" y1="1266" x2="1368.5" y2="1249.5" stroke="#262626" stroke-width="1"/>
<text x="1354.54" y="1295.00" font-size="21.93" fill="#262626" textLength="25.52" lengthAdjust="spacingAndGlyphs">16</text>
<line x1="1436.5" y1="1266" x2="1436.5" y2="1249.5" stroke="#262626" stroke-width="1"/>
<text x="1423.09" y="1295.00" font-size="21.93" fill="#262626" textLength="25.16" lengthAdjust="spacingAndGlyphs">17</text>
<line x1="1504.5" y1="1266" x2="1504.5" y2="1249.5" stroke="#262626" stroke-width="1"/>
<text x="1491.19" y="1295.00" font-size="21.93" fill="#262626" textLength="25.38" lengthAdjust="spacingAndGlyphs">18</text>
<line x1="1573.5" y1="1266" x2="1573.5" y2="1249.5" stroke="#262626" stroke-width="1"/>
<text x="1559.49" y="1295.00" font-size="21.93" fill="#262626" textLength="25.44" lengthAdjust="spacingAndGlyphs">19</text>
<line x1="1641.5" y1="1266" x2="1641.5" y2="1249.5" stroke="#262626" stroke-width="1"/>
<text x="1627.96" y="1295.00" font-size="21.93" fill="#262626" textLength="25.50" lengthAdjust="spacingAndGlyphs">20</text>
<line x1="1709.5" y1="1266" x2="1709.5" y2="1249.5" stroke="#262626" stroke-width="1"/>
<text x="1696.53" y="1295.00" font-size="21.93" fill="#262626" textLength="25.16" lengthAdjust="spacingAndGlyphs">21</text>
<line x1="1777.5" y1="1266" x2="1777.5" y2="1249.5" stroke="#262626" stroke-width="1"/>
<text x="1764.91" y="1295.00" font-size="21.93" fill="#262626" textLength="25.01" lengthAdjust="spacingAndGlyphs">22</text>
<line x1="1846.5" y1="1266" x2="1846.5" y2="1249.5" stroke="#262626" stroke-width="1"/>
<text x="1832.98" y="1295.00" font-size="21.93" fill="#262626" textLength="25.31" lengthAdjust="spacingAndGlyphs">23</text>
<line x1="1914.5" y1="1266" x2="1914.5" y2="1249.5" stroke="#262626" stroke-width="1"/>
<rect x="394.5" y="934.5" width="110" height="39" fill="#ffffff" stroke="#00ffff" stroke-width="1"/>
<text x="400.94" y="961.00" font-size="21.97" fill="#000000" textLength="95.10" lengthAdjust="spacingAndGlyphs">time now</text>
<text transform="translate(241.00,1190.60) rotate(-90)" x="-0.11" y="0" font-size="24.44" fill="#262626" textLength="180.34" lengthAdjust="spacingAndGlyphs">Warning Values</text>
<text x="1020.94" y="1326.50" font-size="24.30" fill="#262626" textLength="148.08" lengthAdjust="spacingAndGlyphs">Time UTC / h</text>
<text x="848.07" y="1359.20" font-size="22.11" fill="#000000" textLength="491.47" lengthAdjust="spacingAndGlyphs">Last updated: Thu 23 Oct 2025 14:50:35 NZDT</text>
</svg></body></html>
